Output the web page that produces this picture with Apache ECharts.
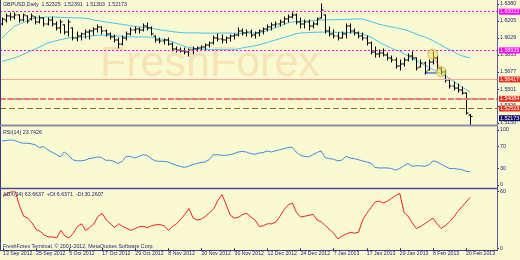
<!DOCTYPE html>
<html><head><meta charset="utf-8">
<script src="https://cdn.jsdelivr.net/npm/echarts/dist/echarts.min.js"></script>
<style>html,body{margin:0;padding:0;background:#fafad2}#c{width:520px;height:260px}</style>
</head><body><div id="c"></div>
<script>
// ---------- DATA ----------
const symbolTitle = 'GBPUSD,Daily  1.52325  1.52391  1.51303  1.52173';
const open = [1.6173,1.6214,1.6256,1.6245,1.6266,1.6214,1.6256,1.6225,1.6245,1.6194,
1.6235,1.6173,1.6214,1.6173,1.6132,1.6163,1.6090,1.6132,1.6028,1.6049,
1.6070,1.6090,1.6101,1.6121,1.6142,1.6101,1.6070,1.6039,1.6008,1.5966,
1.6028,1.6070,1.6111,1.6121,1.6111,1.6152,1.6132,1.6049,1.6008,1.5997,
1.6008,1.5966,1.5915,1.5904,1.5894,1.5884,1.5904,1.5915,1.5925,1.5935,
1.5956,1.5977,1.6028,1.6018,1.6008,1.6028,1.6049,1.6059,1.6101,1.6080,
1.6090,1.6059,1.6080,1.6101,1.6121,1.6142,1.6163,1.6173,1.6194,1.6225,
1.6245,1.6266,1.6194,1.6173,1.6194,1.6152,1.6173,1.6235,1.6266,1.6101,
1.6070,1.6049,1.6028,1.6070,1.6152,1.6101,1.6080,1.6049,1.6028,1.5977,
1.5884,1.5863,1.5873,1.5853,1.5822,1.5801,1.5739,1.5760,1.5801,1.5842,
1.5822,1.5729,1.5770,1.5698,1.5780,1.5822,1.5718,1.5677,1.5594,1.5532,
1.5511,1.5491,1.5460,1.52325];
const high = [1.6235,1.6276,1.6287,1.6287,1.6266,1.6276,1.6256,1.6276,1.6245,1.6256,
1.6235,1.6235,1.6245,1.6194,1.6214,1.6163,1.6214,1.6132,1.6090,1.6080,
1.6111,1.6111,1.6132,1.6163,1.6142,1.6111,1.6080,1.6059,1.6028,1.6049,
1.6090,1.6132,1.6142,1.6132,1.6173,1.6183,1.6142,1.6049,1.6028,1.6018,
1.6028,1.5977,1.5935,1.5925,1.5925,1.5915,1.5935,1.5935,1.5946,1.5966,
1.5987,1.6049,1.6070,1.6059,1.6039,1.6059,1.6070,1.6132,1.6121,1.6111,
1.6111,1.6090,1.6111,1.6132,1.6163,1.6183,1.6194,1.6214,1.6245,1.6266,
1.6287,1.6276,1.6235,1.6214,1.6214,1.6194,1.6235,1.6380,1.6266,1.6142,
1.6111,1.6080,1.6090,1.6173,1.6173,1.6121,1.6090,1.6080,1.6049,1.5987,
1.5935,1.5904,1.5915,1.5873,1.5842,1.5822,1.5801,1.5822,1.5863,1.5884,
1.5822,1.5801,1.5780,1.5801,1.5884,1.5842,1.5718,1.5698,1.5604,1.5573,
1.5553,1.5522,1.5460,1.52391];
const low = [1.6163,1.6194,1.6214,1.6225,1.6194,1.6204,1.6183,1.6214,1.6173,1.6183,
1.6152,1.6163,1.6152,1.6111,1.6080,1.6070,1.6049,1.6008,1.5997,1.6008,
1.6028,1.6018,1.6059,1.6090,1.6070,1.6049,1.6018,1.5987,1.5925,1.5956,
1.6008,1.6059,1.6080,1.6080,1.6101,1.6111,1.6059,1.5987,1.5977,1.5966,
1.5956,1.5894,1.5884,1.5884,1.5863,1.5842,1.5863,1.5894,1.5904,1.5904,
1.5935,1.5966,1.5997,1.5977,1.5977,1.5997,1.6018,1.6049,1.6059,1.6049,
1.6039,1.6028,1.6049,1.6070,1.6101,1.6111,1.6142,1.6152,1.6173,1.6194,
1.6235,1.6173,1.6132,1.6132,1.6111,1.6132,1.6163,1.6235,1.6080,1.6049,
1.6028,1.6008,1.6028,1.6028,1.6080,1.6059,1.6028,1.6008,1.5956,1.5863,
1.5832,1.5832,1.5842,1.5801,1.5780,1.5718,1.5698,1.5739,1.5791,1.5801,
1.5698,1.5729,1.5656,1.5698,1.5760,1.5698,1.5656,1.5573,1.5511,1.5491,
1.5470,1.5449,1.5243,1.51303];
const close = [1.6225,1.6256,1.6245,1.6266,1.6214,1.6266,1.6204,1.6256,1.6194,1.6235,
1.6173,1.6214,1.6173,1.6132,1.6194,1.6090,1.6194,1.6028,1.6049,1.6070,
1.6090,1.6101,1.6121,1.6142,1.6101,1.6070,1.6039,1.6008,1.5966,1.6028,
1.6070,1.6111,1.6121,1.6111,1.6152,1.6132,1.6070,1.6008,1.5997,1.6008,
1.5966,1.5915,1.5904,1.5894,1.5884,1.5904,1.5915,1.5925,1.5935,1.5956,
1.5977,1.6028,1.6018,1.6008,1.6028,1.6049,1.6059,1.6101,1.6080,1.6090,
1.6059,1.6080,1.6101,1.6121,1.6142,1.6163,1.6173,1.6194,1.6225,1.6245,
1.6266,1.6194,1.6173,1.6194,1.6152,1.6173,1.6225,1.6318,1.6101,1.6070,
1.6049,1.6028,1.6070,1.6152,1.6101,1.6080,1.6049,1.6028,1.5977,1.5884,
1.5863,1.5873,1.5853,1.5822,1.5801,1.5739,1.5760,1.5801,1.5842,1.5822,
1.5718,1.5770,1.5677,1.5780,1.5822,1.5718,1.5677,1.5594,1.5532,1.5511,
1.5491,1.5460,1.5253,1.52173];
const upperBand = [1.6028,1.6070,1.6111,1.6152,1.6168,1.6188,1.6204,1.6225,1.6235,1.6240,
1.6242,1.6245,1.6245,1.6243,1.6242,1.6240,1.6239,1.6238,1.6237,1.6235,
1.6233,1.6225,1.6216,1.6209,1.6202,1.6194,1.6188,1.6181,1.6175,1.6169,
1.6163,1.6155,1.6149,1.6144,1.6139,1.6135,1.6130,1.6121,1.6113,1.6106,
1.6101,1.6095,1.6090,1.6085,1.6080,1.6081,1.6082,1.6081,1.6080,1.6079,
1.6078,1.6078,1.6079,1.6080,1.6080,1.6079,1.6078,1.6077,1.6077,1.6078,
1.6079,1.6080,1.6082,1.6090,1.6106,1.6121,1.6137,1.6152,1.6168,1.6183,
1.6194,1.6198,1.6201,1.6204,1.6206,1.6209,1.6212,1.6214,1.6215,1.6216,
1.6217,1.6218,1.6219,1.6220,1.6222,1.6224,1.6225,1.6225,1.6212,1.6199,
1.6185,1.6171,1.6161,1.6152,1.6144,1.6136,1.6126,1.6116,1.6103,1.6086,
1.6070,1.6054,1.6039,1.6022,1.6002,1.5977,1.5956,1.5930,1.5909,1.5889,
1.5863,1.5845,1.5832,1.5822];
const lowerBand = [1.5785,1.5799,1.5811,1.5825,1.5837,1.5858,1.5875,1.5894,1.5915,1.5935,
1.5953,1.5977,1.5989,1.5999,1.6010,1.6020,1.6028,1.6031,1.6034,1.6038,
1.6041,1.6046,1.6051,1.6056,1.6059,1.6056,1.6053,1.6051,1.6049,1.6046,
1.6043,1.6040,1.6039,1.6039,1.6039,1.6039,1.6037,1.6028,1.6020,1.6012,
1.6004,1.5990,1.5977,1.5960,1.5944,1.5930,1.5923,1.5917,1.5915,1.5913,
1.5911,1.5909,1.5908,1.5907,1.5906,1.5905,1.5908,1.5917,1.5925,1.5933,
1.5940,1.5948,1.5956,1.5968,1.5982,1.5995,1.6008,1.6021,1.6033,1.6046,
1.6059,1.6072,1.6080,1.6082,1.6084,1.6086,1.6088,1.6089,1.6090,1.6089,
1.6088,1.6087,1.6086,1.6084,1.6082,1.6081,1.6080,1.6070,1.6054,1.6039,
1.6013,1.5987,1.5964,1.5944,1.5923,1.5904,1.5894,1.5868,1.5842,1.5818,
1.5796,1.5770,1.5749,1.5725,1.5703,1.5680,1.5659,1.5637,1.5610,1.5582,
1.5553,1.5522,1.5496,1.5470];
const rsi = [80,81,82,81,78,76,76,75,73,68, 70,64,60,56,51,60,55,46,44,44,
45,48,49,51,50,45,45,43,39,43, 52,52,49,52,55,54,48,44,43,43,
42,39,36,34,32,34,37,39,41,42, 46,55,55,54,54,55,57,60,61,60,
57,56,58,59,62,60,62,64,66,68, 69,60,54,52,51,55,59,62,50,48,
47,44,45,52,49,48,46,44,42,40, 32,31,31,31,30,27,30,35,39,34,
35,35,34,36,44,42,38,34,30,30, 29,28,25,23.74];
const adx = [55,57.5,60,60,45,34,32,27,20,18, 14,12,12,11,19,13,11,16,23,26,
19,22,26,34,37,30,26,22,26,23, 21,19,21,23,23,22,24,25,25,24,
19,23,26,31,36,42,32,30,31,34, 38,42,51,57,46,35,32,33,36,37,
33,30,23,24,26,26,28,34,41,46, 48,38,33,34,35,36,30,28,24,20,
16,10,13,15,17,16,17,30,37,43, 49,50,48,50,53,56,58,38,34,27,
21,23,26,29,32,26,21,24,28,33, 39,44,49,54];
const priceTicks = [1.6380,1.6205,1.6029,1.5853,1.5677,1.5501,1.5326,1.5150];
const rsiTicks = [0,30,70,100];
const adxTicks = [0,60];
const resistanceLevels = [1.63023,1.58935];
const pivotLevel = 1.56417;
const sellLimit = 1.54084, sellLimitTP = 1.53900, buyStop = 1.52523, bidPrice = 1.52173;
const tradeMarks = [[104,1.5860],[106,1.5680]];
const tradeSegment = [[102,1.5667],[105,1.5667]];
const holidays = ['2012-12-25','2013-01-01'];
const emptySlots = 6;

// ---------- categories (trading days) ----------
const MON = ['Jan','Feb','Mar','Apr','May','Jun','Jul','Aug','Sep','Oct','Nov','Dec'];
const dates = [];
(function(){
  const d = new Date(Date.UTC(2012,8,13));
  while (dates.length < open.length) {
    const wd = d.getUTCDay(), iso = d.toISOString().slice(0,10);
    if (wd !== 0 && wd !== 6 && holidays.indexOf(iso) < 0)
      dates.push(d.getUTCDate()+' '+MON[d.getUTCMonth()]+' '+d.getUTCFullYear());
    d.setUTCDate(d.getUTCDate()+1);
  }
})();
const cats = dates.slice();
for (let k=0;k<emptySlots;k++) cats.push('pad'+k);

const NAVY = '#1c1c7a';
const FONT = "'Liberation Sans', Arial, sans-serif";
const FS = 5.3;
const ohlc = open.map((o,i)=>[i,o,high[i],low[i],close[i]]);

function renderOHLC(params, api){
  const i = api.value(0);
  const pO = api.coord([i, api.value(1)]);
  const pH = api.coord([i, api.value(2)]);
  const pL = api.coord([i, api.value(3)]);
  const pC = api.coord([i, api.value(4)]);
  const x = Math.round(pH[0]) + 0.5;
  const style = {stroke:'#000000', lineWidth:1};
  return {type:'group', children:[
    {type:'line', shape:{x1:x,y1:pH[1]-0.5,x2:x,y2:pL[1]+0.5}, style},
    {type:'line', shape:{x1:x-2,y1:pO[1],x2:x,y2:pO[1]}, style},
    {type:'line', shape:{x1:x,y1:pC[1],x2:x+2,y2:pC[1]}, style}
  ]};
}

const tickShow = (idx)=> idx % 8 === 0 && idx < dates.length;
function xAxisFor(g, showLabels){
  return {type:'category', gridIndex:g, data:cats, boundaryGap:true,
    axisLine:{show:false}, splitLine:{show:false},
    axisTick:{show:showLabels, interval:tickShow, alignWithLabel:true, length:3, lineStyle:{color:NAVY}},
    axisLabel:{show:showLabels, interval:tickShow, align:'left', margin:3, fontSize:5.2, color:NAVY, fontFamily:FONT}};
}
function yAxisFor(g, min, max, ticks, fmt){
  return {type:'value', gridIndex:g, position:'right', min, max, scale:true,
    axisLine:{show:false}, splitLine:{show:false},
    axisTick:{show:true, customValues:ticks, length:2, lineStyle:{color:NAVY}},
    axisLabel:{show:true, customValues:ticks, formatter:fmt, fontSize:FS, color:NAVY, margin:3, fontFamily:FONT}};
}

function level(v, color, type, width, boxBg, boxColor){
  return {yAxis:v, lineStyle:{color, type, width},
    label:{show:!!boxBg, position:'end', distance:2, formatter: v.toFixed(5),
      backgroundColor:boxBg, color:boxColor||'#ffffff', fontSize:FS, fontFamily:FONT, padding:[1,1,0,1]}};
}
function caption(v, text){
  return {yAxis:v, lineStyle:{opacity:0, width:0},
    label:{show:true, position:'insideStartTop', distance:[3,1], formatter:text, color:NAVY, fontSize:FS, fontFamily:FONT}};
}

const chart = echarts.init(document.getElementById('c'), null, {renderer:'canvas'});
chart.setOption({
  animation:false,
  backgroundColor:'#fafad2',
  grid:[
    {left:0, top:2, width:497, height:122},
    {left:0, top:130, width:497, height:55},
    {left:0, top:191.7, width:497, height:56.6}
  ],
  xAxis:[xAxisFor(0,false), xAxisFor(1,false), xAxisFor(2,true)],
  yAxis:[
    yAxisFor(0, 1.5140, 1.6400, priceTicks, v=>v.toFixed(4)),
    yAxisFor(1, 0, 100, rsiTicks, v=>String(v)),
    yAxisFor(2, 0, 60, adxTicks, v=>String(v))
  ],
  graphic:[
    {type:'text', z:0, left:100, top:43, silent:true,
      style:{text:'FreshForex', font:"43px 'Liberation Sans', Arial, sans-serif", fill:'rgba(242,170,110,0.28)'}},
    {type:'text', z:10, left:3, top:2, style:{text:symbolTitle, font:FS+"px "+FONT, fill:NAVY}},
    {type:'text', z:10, left:3, top:130, style:{text:'RSI(14) 23.7426', font:FS+"px "+FONT, fill:NAVY}},
    {type:'text', z:10, left:3, top:192, style:{text:'ADX(14) 63.6637  +DI:6.6371  -DI:30.2607', font:FS+"px "+FONT, fill:NAVY}},
    {type:'text', z:10, left:3, top:244.5, style:{text:'FreshForex Terminal, © 2001-2012, MetaQuotes Software Corp.', font:FS+"px "+FONT, fill:NAVY}},
    {type:'line', z:10, shape:{x1:0.5,y1:0,x2:0.5,y2:251}, style:{stroke:'#3a3a80', lineWidth:1}},
    {type:'line', z:10, shape:{x1:497.5,y1:0,x2:497.5,y2:251}, style:{stroke:'#5a5a9a', lineWidth:1}},
    {type:'line', z:10, shape:{x1:0,y1:125.5,x2:498,y2:125.5}, style:{stroke:'#8c8cac', lineWidth:2}},
    {type:'line', z:10, shape:{x1:0,y1:188.5,x2:498,y2:188.5}, style:{stroke:'#4a4a9a', lineWidth:1.5}},
    {type:'line', z:10, shape:{x1:0,y1:250.5,x2:498,y2:250.5}, style:{stroke:'#3a3a80', lineWidth:1}}
  ],
  series:[
    {type:'line', xAxisIndex:0, yAxisIndex:0, data:upperBand, symbol:'none', z:3,
      lineStyle:{color:'#46c2ee', width:1},
      markLine:{silent:true, symbol:['none','none'], animation:false, data:[
        level(resistanceLevels[0], '#ff00ff', [2,2], 1, '#ff00ff'),
        level(resistanceLevels[1], '#ff00ff', [2,2], 1, '#ff00ff'),
        level(pivotLevel, '#f2a898', 'solid', 1, '#e83020'),
        level(sellLimitTP, '#5ccf5c', [4,3], 1.5, null),
        level(sellLimit, '#f07878', [6,2], 2, '#e83020'),
        level(bidPrice, '#1c1c7a', 'solid', 0, '#10106a'),
        level(buyStop, '#7a7a10', [6,3], 1, '#e83020'),
        caption(sellLimit, '#GBP373 sell limit'),
        caption(buyStop, '#GBP386 buy stop')
      ]}},
    {type:'line', xAxisIndex:0, yAxisIndex:0, data:lowerBand, symbol:'none', z:3,
      lineStyle:{color:'#46c2ee', width:1}},
    {type:'custom', xAxisIndex:0, yAxisIndex:0, data:ohlc, renderItem:renderOHLC, z:4,
      encode:{x:0, y:[1,2,3,4]}},
    {type:'line', xAxisIndex:0, yAxisIndex:0, data:tradeSegment, symbol:'none', z:5,
      lineStyle:{color:'#2030e0', width:1}},
    {type:'line', xAxisIndex:0, yAxisIndex:0, data:tradeMarks, symbol:'none', z:5,
      lineStyle:{color:'#e02020', width:1, type:[1,1]}},
    {type:'scatter', xAxisIndex:0, yAxisIndex:0, data:tradeMarks, symbol:'circle', symbolSize:10, z:6,
      itemStyle:{color:'rgba(232,222,90,0.65)', borderColor:'#c8b040', borderWidth:1}},
    {type:'line', xAxisIndex:1, yAxisIndex:1, data:rsi, symbol:'none',
      lineStyle:{color:'#3a8ce0', width:1}},
    {type:'line', xAxisIndex:2, yAxisIndex:2, data:adx, symbol:'none',
      lineStyle:{color:'#ee2222', width:1}}
  ]
});
</script></body></html>
